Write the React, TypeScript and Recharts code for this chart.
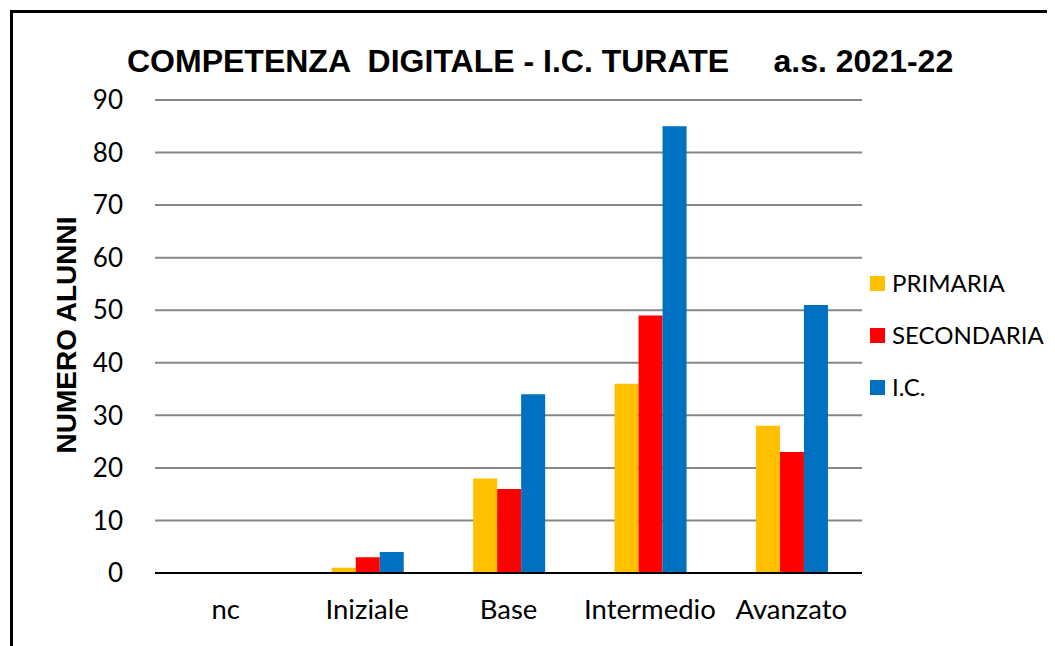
import { Bar, BarChart, CartesianGrid, Label, XAxis, YAxis } from "recharts";

const categories = ["nc", "Iniziale", "Base", "Intermedio", "Avanzato"];
const primaria = [0, 1, 18, 36, 28];
const secondaria = [0, 3, 16, 49, 23];
const ic = [0, 4, 34, 85, 51];
const yTicks = [0, 10, 20, 30, 40, 50, 60, 70, 80, 90];

const series = [
  { key: "primaria", name: "PRIMARIA", color: "#FFC000" },
  { key: "secondaria", name: "SECONDARIA", color: "#FF0000" },
  { key: "ic", name: "I.C.", color: "#0070C0" },
];

const data = categories.map((c, i) => ({
  cat: c,
  primaria: primaria[i],
  secondaria: secondaria[i],
  ic: ic[i],
}));

const W = 1047;
const H = 638;
const bodyFont = "Lato, 'Open Sans', sans-serif";
const boldFont = "'Liberation Sans', Arial, sans-serif";

// legend drawn outside recharts so it doesn't eat into the plot width
function LegendBox() {
  return (
    <div
      style={{
        position: "absolute",
        left: 862,
        top: 261,
        display: "flex",
        flexDirection: "column",
        gap: 24,
        fontFamily: bodyFont,
      }}
    >
      {series.map((s) => (
        <div key={s.key} style={{ display: "flex", alignItems: "center", fontSize: 24, color: "#000", lineHeight: "28px" }}>
          <span style={{ width: 15, height: 15, background: s.color, marginRight: 7, display: "inline-block" }} />
          {s.name}
        </div>
      ))}
    </div>
  );
}

function AxisTitle({ viewBox }: { viewBox?: { x: number; y: number; width: number; height: number } }) {
  if (!viewBox) return null;
  const cy = 327;
  return (
    <text
      x={58}
      y={cy}
      transform={`rotate(-90, 58, ${cy})`}
      textAnchor="middle"
      dominantBaseline="central"
      fontFamily={boldFont}
      fontWeight="bold"
      fontSize={28}
      fill="#000"
    >
      NUMERO ALUNNI
    </text>
  );
}

export default function App() {
  return (
    <div style={{ position: "relative", width: W, height: H }}>
      <div
        style={{
          position: "absolute",
          left: 2,
          top: 2,
          right: -8,
          bottom: -8,
          borderTop: "3px solid #000",
          borderLeft: "3px solid #000",
          pointerEvents: "none",
        }}
      />
      <div
        style={{
          position: "absolute",
          left: 119,
          top: 35,
          fontFamily: boldFont,
          fontWeight: "bold",
          fontSize: 32,
          whiteSpace: "pre",
          color: "#000",
        }}
      >
        {"COMPETENZA  DIGITALE - I.C. TURATE     a.s. 2021-22"}
      </div>
      <BarChart
        width={W}
        height={H}
        data={data}
        margin={{ top: 92, right: 193, left: 0, bottom: 0 }}
        barCategoryGap="25%"
        barGap={0}
      >
        <CartesianGrid vertical={false} stroke="#868686" strokeWidth={2} />
        <XAxis
          dataKey="cat"
          height={73}
          tickLine={false}
          axisLine={{ stroke: "#000", strokeWidth: 2 }}
          tick={{ fill: "#000", fontSize: 27.5, fontFamily: bodyFont }}
          tickMargin={20}
        />
        <YAxis
          width={147}
          domain={[0, 90]}
          ticks={yTicks}
          interval={0}
          tickLine={false}
          axisLine={false}
          tickMargin={26}
          tick={{ fill: "#000", fontSize: 26, fontFamily: bodyFont }}
        >
          <Label content={<AxisTitle />} />
        </YAxis>
        {series.map((s) => (
          <Bar key={s.key} dataKey={s.key} name={s.name} fill={s.color} isAnimationActive={false} />
        ))}
      </BarChart>
      <LegendBox />
    </div>
  );
}
